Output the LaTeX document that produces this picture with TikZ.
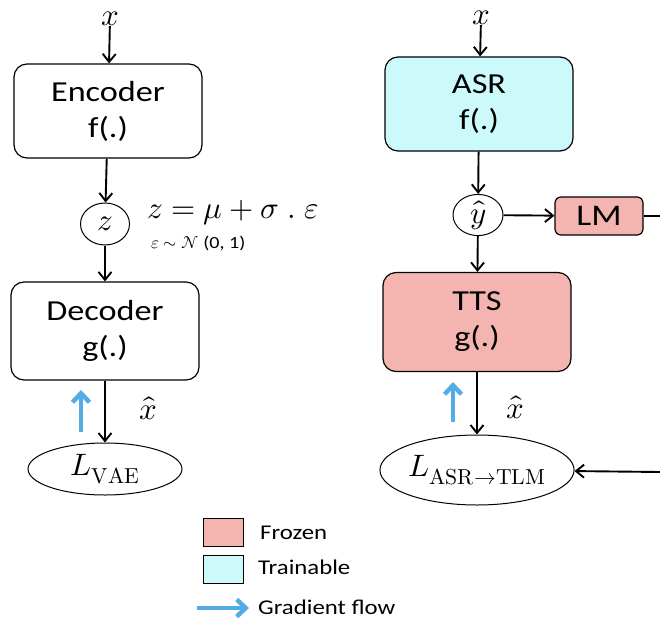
\documentclass[tikz,border=0pt]{standalone}
\usepackage{fontspec}
\usepackage{unicode-math}
\setmainfont{Carlito}[FakeStretch=1.18]
\usetikzlibrary{arrows.meta,shapes.geometric}
\definecolor{frozen}{RGB}{244,180,176}
\definecolor{trainable}{RGB}{204,250,250}
\definecolor{gradblue}{RGB}{84,172,228}

\begin{document}
\begin{tikzpicture}[x=1pt,y=-1pt,
  box/.style={draw, line width=1.2pt, rounded corners=13pt, align=center, inner sep=0pt,
              minimum width=188pt, font=\fontsize{29}{36}\selectfont},
  var/.style={draw, ellipse, line width=1pt, inner sep=0pt},
  flow/.style={-{Straight Barb[length=8pt,width=13pt,line width=1.9pt]}, line width=1.9pt},
  plainline/.style={line width=1.9pt},
  grad/.style={-{Straight Barb[length=9pt,width=17pt]}, line width=4.5pt, gradblue},
  lbl/.style={inner sep=0pt},
  mathbig/.style={font=\fontsize{31}{33}\selectfont},
  swatch/.style={draw, line width=0.9pt, minimum width=40pt, minimum height=28pt, inner sep=0pt},
  legtext/.style={anchor=west, inner sep=0pt, font=\fontsize{21}{24}\selectfont}
]
\useasboundingbox (0,0) rectangle (660,623);

% ---- VAE column ----
\node[lbl, mathbig] (xa) at (110,19) {$x$};
\node[box, minimum height=94pt] (enc) at (108,111) {Encoder\\f(.)};
\node[var, mathbig, minimum width=49pt, minimum height=42pt] (z) at (105,224) {$z$};
\node[box, minimum height=98pt] (dec) at (105,331) {Decoder\\g(.)};
\node[var, mathbig, minimum width=154pt, minimum height=52pt] (lvae) at (105,469) {$L_{\symup{VAE}}$};

\node[lbl, anchor=west, mathbig] (eq) at (147,213) {$z = \mu + \sigma \;.\; \varepsilon$};
\node[lbl, anchor=west, font=\fontsize{17}{19}\selectfont] (eps) at (151,243) {$\varepsilon \sim \mathcal{N}$ (0, 1)};
\node[lbl, mathbig] (xha) at (148,408) {$\hat{x}$};

\draw[flow] (xa) -- (enc);
\draw[flow] (enc) -- (z);
\draw[flow] (z) -- (dec);
\draw[flow] (dec) -- (lvae);

\coordinate (ga1) at (81,432);
\coordinate (ga2) at (81,390);
\draw[grad] (ga1) -- (ga2);

% ---- ASR / TTS column ----
\node[lbl, mathbig] (xb) at (481,18) {$x$};
\node[box, minimum height=94pt, fill=trainable] (asr) at (479,104) {ASR\\f(.)};
\node[var, mathbig, minimum width=50pt, minimum height=40pt] (yh) at (478,215) {$\hat{y}$};
\node[draw, line width=1.2pt, rounded corners=6pt, fill=frozen, minimum width=88pt, minimum height=38pt,
      inner sep=0pt, font=\fontsize{30}{32}\selectfont] (lm) at (599,216) {LM};
\node[box, minimum height=99pt, fill=frozen] (tts) at (477,322) {TTS\\g(.)};
\node[var, mathbig, minimum width=153pt, minimum height=70pt] (lasr) at (477,470) {$L_{\symup{ASR}\to\symup{TLM}}$};
\node[lbl, mathbig] (xhb) at (515,407) {$\hat{x}$};

\coordinate (edgeA) at (660,216);
\coordinate (edgeB) at (660,472);

\draw[flow] (xb) -- (asr);
\draw[flow] (asr) -- (yh);
\draw[flow] (yh) -- (lm);
\draw[plainline] (lm) -- (edgeA);
\draw[flow] (yh) -- (tts);
\draw[flow] (tts) -- (lasr);
\draw[flow] (edgeB) -- (lasr);

\coordinate (gb1) at (453,422);
\coordinate (gb2) at (453,382);
\draw[grad] (gb1) -- (gb2);

% ---- legend ----
\node[swatch, fill=frozen] (sf) at (223,532) {};
\node[legtext] (tf) at (260,533) {Frozen};
\node[swatch, fill=trainable] (st) at (223,569) {};
\node[legtext] (tt) at (258,567) {Trainable};
\coordinate (gl1) at (197,608);
\coordinate (gl2) at (249,608);
\draw[grad] (gl1) -- (gl2);
\node[legtext] (tg) at (258,607) {Gradient flow};
\end{tikzpicture}
\end{document}
